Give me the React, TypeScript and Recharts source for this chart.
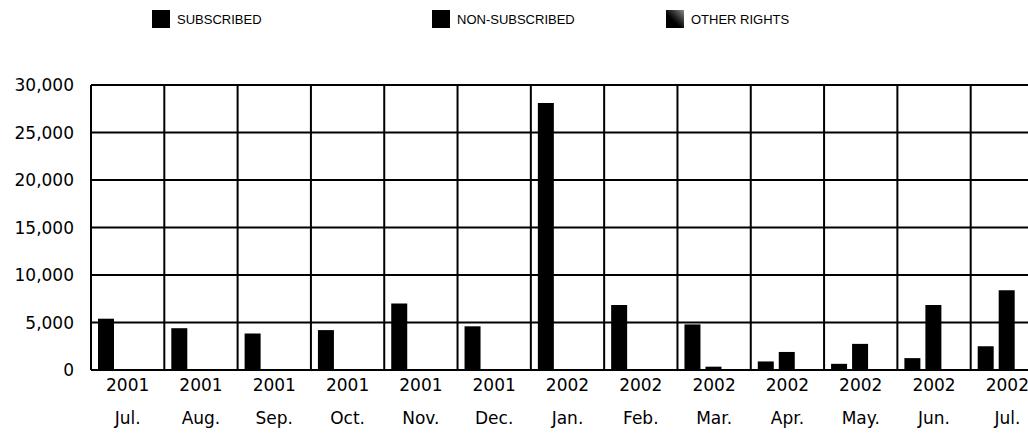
import React from 'react';
import { BarChart, Bar, XAxis, YAxis, CartesianGrid } from 'recharts';

const years = ['2001', '2001', '2001', '2001', '2001', '2001', '2002', '2002', '2002', '2002', '2002', '2002', '2002'];
const months = ['Jul.', 'Aug.', 'Sep.', 'Oct.', 'Nov.', 'Dec.', 'Jan.', 'Feb.', 'Mar.', 'Apr.', 'May.', 'Jun.', 'Jul.'];
const subscribed = [5400, 4400, 3850, 4200, 7000, 4600, 28100, 6850, 4800, 900, 650, 1250, 2500];
const nonSubscribed = [0, 0, 0, 0, 0, 0, 0, 0, 350, 1900, 2750, 6850, 8400];
const otherRights = [0, 0, 0, 0, 0, 0, 0, 0, 0, 0, 0, 0, 0];
const yTicks = [0, 5000, 10000, 15000, 20000, 25000, 30000];
const seriesNames = ['SUBSCRIBED', 'NON-SUBSCRIBED', 'OTHER RIGHTS'];

const data = months.map((m, i) => ({
  key: `${years[i]}-${m}-${i}`,
  year: years[i],
  month: m,
  subscribed: subscribed[i],
  nonSubscribed: nonSubscribed[i],
  otherRights: otherRights[i],
}));

const tickFont = '"DejaVu Sans", sans-serif';

const MonthTick = (props: any) => {
  const { x, y, payload } = props;
  const row = data.find(d => d.key === payload.value);
  if (!row) return null;
  return (
    <g>
      <text x={x} y={y + 21} textAnchor="middle" fontFamily={tickFont} fontSize={17} fill="#000">
        {row.year}
      </text>
      <text x={x} y={y + 54} textAnchor="middle" fontFamily={tickFont} fontSize={17} fill="#000">
        {row.month}
      </text>
    </g>
  );
};

const legendLeft = [152, 432, 666];
const swatches = [
  '#000',
  '#000',
  'linear-gradient(225deg, #8a8a8a 0%, #333 35%, #000 60%)',
];

export default function App() {
  return (
    <div style={{ position: 'absolute', left: 0, top: 0, width: 1028, height: 445, overflow: 'hidden', background: '#fff' }}>
      {seriesNames.map((name, i) => (
        <div
          key={name}
          style={{
            position: 'absolute',
            left: legendLeft[i],
            top: 10,
            display: 'flex',
            alignItems: 'center',
            fontFamily: '"Liberation Sans", Arial, sans-serif',
            fontSize: 13,
            color: '#000',
          }}
        >
          <span style={{ display: 'inline-block', width: 18, height: 18, background: swatches[i], marginRight: 7 }} />
          <span>{name}</span>
        </div>
      ))}
      <BarChart
        width={1046}
        height={445}
        data={data}
        margin={{ top: 85, right: 2, bottom: 15, left: 0 }}
        barCategoryGap={7}
        barGap={5}
      >
        <CartesianGrid
          stroke="#000"
          strokeWidth={2}
          verticalCoordinatesGenerator={({ offset }: any) =>
            Array.from({ length: data.length + 1 }, (_, i) => offset.left + (i * offset.width) / data.length)
          }
        />
        <XAxis
          dataKey="key"
          height={60}
          tickLine={false}
          tickSize={0}
          tickMargin={0}
          interval={0}
          axisLine={{ stroke: '#000', strokeWidth: 2 }}
          tick={<MonthTick />}
        />
        <YAxis
          width={91}
          domain={[0, 30000]}
          ticks={yTicks}
          tickLine={false}
          axisLine={false}
          tickSize={0}
          tickMargin={17}
          tick={{ fill: '#000', fontSize: 17, fontFamily: tickFont }}
          tickFormatter={(v: number) => v.toLocaleString('en-US')}
        />
        <Bar dataKey="subscribed" name="SUBSCRIBED" fill="#000" isAnimationActive={false} />
        <Bar dataKey="nonSubscribed" name="NON-SUBSCRIBED" fill="#000" isAnimationActive={false} />
        <Bar dataKey="otherRights" name="OTHER RIGHTS" fill="#333" isAnimationActive={false} />
      </BarChart>
    </div>
  );
}
